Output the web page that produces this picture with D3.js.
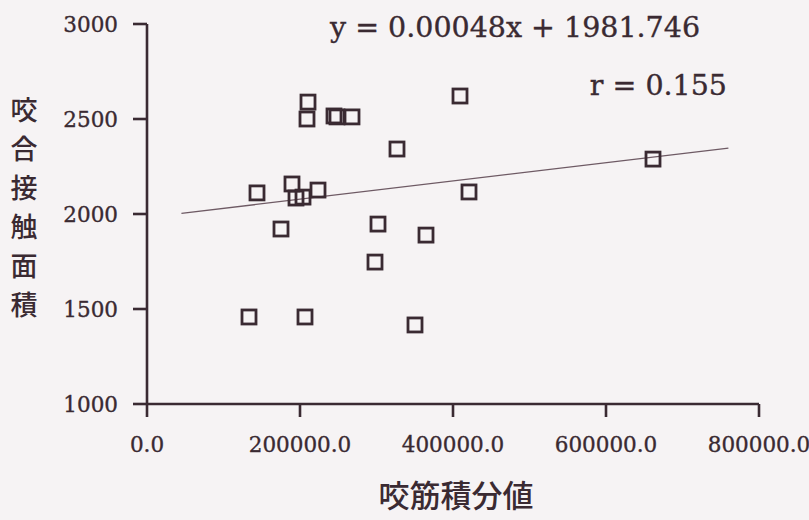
<!DOCTYPE html>
<html>
<head>
<meta charset="utf-8">
<script src="https://cdn.jsdelivr.net/npm/d3@7"></script>
<style>
  html, body { margin: 0; padding: 0; background: #f6f3f4; }
  svg { display: block; }
</style>
</head>
<body>
<svg id="chart" width="809" height="520"></svg>
<script>
// ---- data ----
const xValues = [210458, 209150, 244444, 248366, 267974, 326797, 409150, 143791, 189542, 194771,
                 203922, 223529, 175163, 301961, 364706, 298039, 133333, 206536, 350327, 420915, 661438];
const yValues = [2589, 2500, 2516, 2511, 2511, 2342, 2621, 2111, 2158, 2084,
                 2089, 2126, 1921, 1947, 1889, 1747, 1458, 1458, 1416, 2116, 2289];
const xTicks = [0, 200000, 400000, 600000, 800000];
const xTickLabels = ["0.0", "200000.0", "400000.0", "600000.0", "800000.0"];
const yTicks = [1000, 1500, 2000, 2500, 3000];
const yTickLabels = ["1000", "1500", "2000", "2500", "3000"];
const slope = 0.00048;
const intercept = 1981.746;
const lineRange = [45000, 760000];
const equationText = "y = 0.00048x + 1981.746";
const rText = "r = 0.155";
const yTitle = ["咬", "合", "接", "触", "面", "積"];
const xTitle = "咬筋積分値";

// ---- layout ----
const ink = "#3a2a32";
const svg = d3.select("#chart");
const x = d3.scaleLinear().domain([0, 800000]).range([147, 759]);
const y = d3.scaleLinear().domain([1000, 3000]).range([404, 24]);

const serif = (sel, size) => sel.attr("font-family", "DejaVu Serif").attr("font-size", size)
  .attr("fill", ink).attr("stroke", ink).attr("stroke-width", 0.35);

// axes lines
svg.append("line").attr("x1", x(0)).attr("x2", x(0)).attr("y1", y(3000)).attr("y2", 417)
  .attr("stroke", ink).attr("stroke-width", 2.6);
svg.append("line").attr("x1", x(0)).attr("x2", x(800000)).attr("y1", y(1000)).attr("y2", y(1000))
  .attr("stroke", ink).attr("stroke-width", 2.6);

// y ticks
const yg = svg.append("g");
yg.selectAll("line").data(yTicks).join("line")
  .attr("x1", 133).attr("x2", x(0)).attr("y1", d => y(d)).attr("y2", d => y(d))
  .attr("stroke", ink).attr("stroke-width", 2.6);
serif(yg.selectAll("text").data(yTicks).join("text")
  .attr("x", 118).attr("y", d => y(d)).attr("dy", "0.36em")
  .attr("text-anchor", "end"), 21.5)
  .text((d, i) => yTickLabels[i]);

// x ticks
const xg = svg.append("g");
xg.selectAll("line").data(xTicks.slice(1)).join("line")
  .attr("x1", d => x(d)).attr("x2", d => x(d)).attr("y1", y(1000)).attr("y2", 417)
  .attr("stroke", ink).attr("stroke-width", 2.6);
serif(xg.selectAll("text").data(xTicks).join("text")
  .attr("x", d => x(d)).attr("y", 452)
  .attr("text-anchor", "middle"), 21.5)
  .text((d, i) => xTickLabels[i]);

// regression line
svg.append("line")
  .attr("x1", x(lineRange[0])).attr("y1", y(slope * lineRange[0] + intercept))
  .attr("x2", x(lineRange[1])).attr("y2", y(slope * lineRange[1] + intercept))
  .attr("stroke", "#6e5a64").attr("stroke-width", 1.3);

// points
const s = 14;
svg.append("g").selectAll("rect").data(xValues).join("rect")
  .attr("x", (d) => x(d) - s / 2)
  .attr("y", (d, i) => y(yValues[i]) - s / 2)
  .attr("width", s).attr("height", s)
  .attr("fill", "none").attr("stroke", ink).attr("stroke-width", 2.8);

// annotations
serif(svg.append("text").attr("x", 330).attr("y", 37), 28.5)
  .text(equationText);
serif(svg.append("text").attr("x", 727).attr("y", 95).attr("text-anchor", "end"), 28.5)
  .text(rText);

// titles
svg.append("g").selectAll("text").data(yTitle).join("text")
  .attr("x", 24).attr("y", (d, i) => 110 + i * 39).attr("dy", "0.36em")
  .attr("text-anchor", "middle")
  .attr("font-family", "Noto Sans CJK JP").attr("font-weight", 500)
  .attr("font-size", 27).attr("fill", ink)
  .text(d => d);
svg.append("text").attr("x", 456).attr("y", 496).attr("dy", "0.36em")
  .attr("text-anchor", "middle")
  .attr("font-family", "Noto Sans CJK JP").attr("font-weight", 500)
  .attr("font-size", 31).attr("fill", ink)
  .text(xTitle);
</script>
</body>
</html>
